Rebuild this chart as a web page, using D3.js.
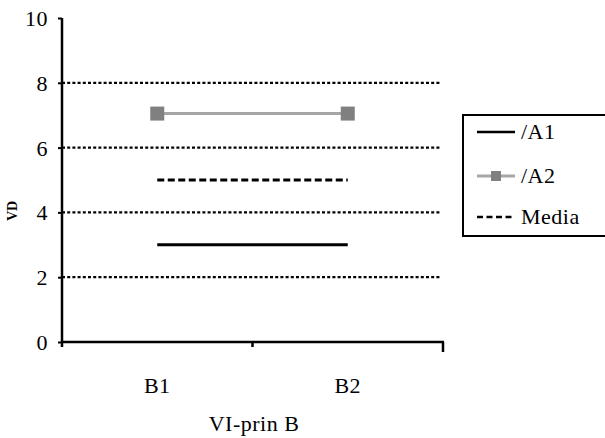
<!DOCTYPE html>
<html><head><meta charset="utf-8">
<script src="https://cdn.jsdelivr.net/npm/d3@7"></script>
<style>body{margin:0;background:#fff;} svg text{font-family:"Liberation Serif","Times New Roman",Tinos,"DejaVu Serif",serif !important;}</style>
</head><body>
<svg id="c" width="605" height="438"></svg>
<script>
const categories = ["B1", "B2"];
const seriesA1 = [3.0, 3.0];
const seriesA2 = [7.05, 7.05];
const seriesMedia = [5.0, 5.0];
const yTicks = [0, 2, 4, 6, 8, 10];
const gridValues = [2, 4, 6, 8];
const legendLabels = ["/A1", "/A2", "Media"];
const xTitle = "VI-prin B";
const yTitle = "VD";

const svg = d3.select("#c");
const x = d3.scaleBand().domain(categories).range([62, 443]);
const y = d3.scaleLinear().domain([0, 10]).range([342, 18]);
const cx = d => x(d) + x.bandwidth() / 2;

// gridlines
svg.append("g").selectAll("line").data(gridValues).join("line")
  .attr("x1", 62).attr("x2", 440).attr("y1", d => y(d)).attr("y2", d => y(d))
  .attr("stroke", "#000").attr("stroke-width", 2.2).attr("stroke-dasharray", "3,2.2");

// y axis
const yAxis = d3.axisLeft(y).tickValues(yTicks).tickSize(4).tickPadding(10).tickFormat(d3.format("d"));
const gy = svg.append("g").attr("transform", "translate(62,0)").call(yAxis);
gy.select(".domain").attr("stroke-width", 2.5).attr("d", "M0,18V342");
gy.selectAll(".tick line").attr("stroke-width", 2);
gy.selectAll(".tick text").attr("font-size", 22).attr("fill", "#000").attr("dy", "0.34em").attr("letter-spacing", 0.5);

// x axis
const gx = svg.append("g").attr("transform", "translate(0,342)");
gx.append("line").attr("x1", 61).attr("x2", 444).attr("y1", 0).attr("y2", 0).attr("stroke", "#000").attr("stroke-width", 2.5);
const xt = [62, 62 + x.bandwidth(), 443];
gx.selectAll("line.t").data(xt).join("line").attr("class", "t")
  .attr("x1", d => d).attr("x2", d => d).attr("y1", 0).attr("y2", (d, i) => i === 2 ? 10 : 5)
  .attr("stroke", "#000").attr("stroke-width", 2.5);
gx.selectAll("text").data(categories).join("text")
  .attr("x", d => cx(d)).attr("y", 51).attr("text-anchor", "middle")
  .attr("font-size", 22).attr("letter-spacing", 0.5).text(d => d);

svg.append("text").attr("x", 254).attr("y", 431).attr("text-anchor", "middle").attr("font-size", 22).attr("letter-spacing", 0.5).text(xTitle);
svg.append("text").attr("transform", "translate(17,211) rotate(-90)").attr("text-anchor", "middle")
  .attr("font-size", 14).attr("font-weight", "bold").text(yTitle);

const line = d3.line().x((d, i) => cx(categories[i])).y(d => y(d));

// A1
svg.append("path").datum(seriesA1).attr("d", line).attr("fill", "none").attr("stroke", "#000").attr("stroke-width", 3);
// Media
svg.append("path").datum(seriesMedia).attr("d", line).attr("fill", "none").attr("stroke", "#000").attr("stroke-width", 3).attr("stroke-dasharray", "7,3.5");
// A2
svg.append("path").datum(seriesA2).attr("d", line).attr("fill", "none").attr("stroke", "#a6a6a6").attr("stroke-width", 3);
svg.append("g").selectAll("rect").data(seriesA2).join("rect")
  .attr("x", (d, i) => cx(categories[i]) - 7).attr("y", d => y(d) - 7)
  .attr("width", 14).attr("height", 14).attr("fill", "#808080");

// legend
const lg = svg.append("g");
lg.append("rect").attr("x", 463).attr("y", 115).attr("width", 160).attr("height", 121)
  .attr("fill", "#fff").attr("stroke", "#000").attr("stroke-width", 2);
const ly = [132, 176, 217];
legendLabels.forEach((lab, i) => {
  const l = lg.append("line").attr("x1", 477).attr("x2", 515).attr("y1", ly[i]).attr("y2", ly[i])
    .attr("stroke", i === 1 ? "#a6a6a6" : "#000").attr("stroke-width", i === 1 ? 3 : 2.5);
  if (i === 2) l.attr("stroke-dasharray", "6,3.5");
  if (i === 1) lg.append("rect").attr("x", 491).attr("y", ly[i] - 5).attr("width", 10).attr("height", 10).attr("fill", "#808080");
  lg.append("text").attr("x", 521).attr("y", ly[i] + 7).attr("font-size", 22).attr("letter-spacing", 0.5).text(lab);
});
</script>
</body></html>
